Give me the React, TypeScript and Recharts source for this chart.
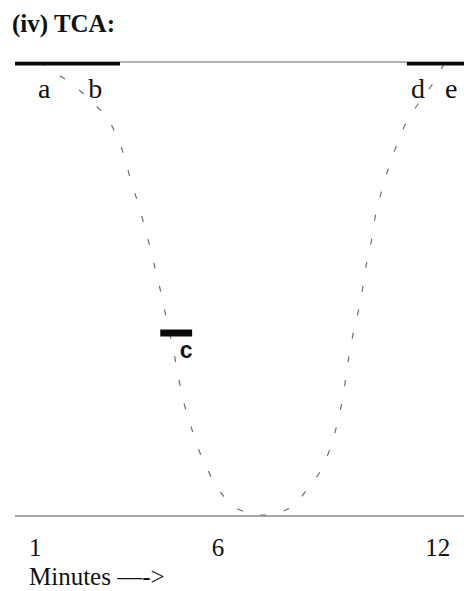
import React from "react";
import { ComposedChart, Line, Scatter, XAxis, YAxis, ReferenceLine } from "recharts";

// dashed curve (minutes, relative level 0..1)
const curveMinutes = [1.14, 1.46, 2.04, 2.5, 3.13, 3.38, 3.6, 3.87, 4.14, 4.31, 4.47, 4.61, 4.77, 4.91, 5.04, 5.23, 5.43, 5.73, 6.08, 6.55, 7.23, 8.02, 8.46, 8.84, 9.11, 9.28, 9.42, 9.52, 9.63, 9.8, 9.93, 10.04, 10.18, 10.29, 10.48, 10.67, 10.92, 11.16, 11.46, 11.71, 11.98, 12.2];
const curveLevel = [1.0, 0.982, 0.949, 0.916, 0.854, 0.806, 0.744, 0.673, 0.592, 0.534, 0.481, 0.426, 0.369, 0.309, 0.258, 0.205, 0.155, 0.099, 0.051, 0.015, 0.002, 0.02, 0.062, 0.106, 0.161, 0.212, 0.267, 0.322, 0.377, 0.439, 0.492, 0.549, 0.602, 0.658, 0.719, 0.77, 0.825, 0.87, 0.907, 0.934, 0.967, 1.0];

// thick segments
const segStart = [0.45, 4.42, 11.16];
const segEnd = [3.32, 5.29, 12.72];
const segLevel = [1.0, 0.403, 1.0];

// point labels
const labelNames = ["a", "b", "d", "e"];
const labelMinutes = [1.25, 2.64, 11.46, 12.37];
const labelLevel = [0.921, 0.921, 0.921, 0.921];
const cLabel = { name: "c", m: 5.13, v: 0.348 };

const xTicks = [1, 6, 12];
const xDomain = [0.45, 12.72];

const curveData = curveMinutes.map((m, i) => ({ m, v: curveLevel[i] }));
const segData = segStart.map((s, i) => [
  { m: s, v: segLevel[i] },
  { m: segEnd[i], v: segLevel[i] },
]);
const labelData = labelNames.map((name, i) => ({ name, m: labelMinutes[i], v: labelLevel[i] }));

const serif = "'Liberation Serif', 'Times New Roman', serif";

const TickText = (props: any) => {
  const { x, y, payload } = props;
  return (
    <text x={x} y={y + 32} textAnchor="middle" fontFamily={serif} fontSize={25} fill="#111">
      {payload.value}
    </text>
  );
};

const AxisLabel = (props: any) => {
  const vb = props.viewBox || { x: 15, y: 516 };
  return (
    <text x={vb.x + 14} y={585} fontFamily={serif} fontSize={25} fill="#111">
      Minutes —-&gt;
    </text>
  );
};

const LetterShape = (props: any) => {
  const { cx, cy, payload } = props;
  return (
    <text x={cx} y={cy} textAnchor="middle" fontFamily={serif} fontSize={28} fill="#111">
      {payload.name}
    </text>
  );
};

const BoldShape = (props: any) => {
  const { cx, cy, payload } = props;
  return (
    <text x={cx} y={cy} textAnchor="middle" fontFamily="'Liberation Sans', Arial, sans-serif" fontWeight="bold" fontSize={23} fill="#111">
      {payload.name}
    </text>
  );
};

export default function App() {
  return (
    <div style={{ position: "absolute", left: 0, top: 0, width: 464, height: 591, background: "#fff" }}>
      <div
        style={{
          position: "absolute",
          left: 12,
          top: 9,
          fontFamily: serif,
          fontWeight: "bold",
          fontSize: 25,
          lineHeight: "30px",
          color: "#111",
          whiteSpace: "nowrap",
        }}
      >
        (iv) TCA:
      </div>
      <ComposedChart width={464} height={591} margin={{ top: 62, right: 0, left: 15, bottom: 0 }}>
        <XAxis
          dataKey="m"
          type="number"
          domain={xDomain}
          allowDataOverflow
          ticks={xTicks}
          tickLine={false}
          axisLine={{ stroke: "#8a8a8a", strokeWidth: 1.5 }}
          tick={<TickText />}
          height={75}
          label={<AxisLabel />}
        />
        <YAxis
          dataKey="v"
          type="number"
          domain={[0, 1]}
          allowDataOverflow
          width={0}
          tick={false}
          tickLine={false}
          axisLine={{ stroke: "#8a8a8a", strokeWidth: 1.5 }}
        />
        <ReferenceLine y={1} stroke="#999" strokeWidth={1.5} />
        <Line
          data={curveData}
          dataKey="v"
          type="monotone"
          stroke="#6e6e6e"
          strokeWidth={1.2}
          strokeDasharray="6 18"
          dot={false}
          isAnimationActive={false}
        />
        {segData.map((d, i) => (
          <Line
            key={i}
            data={d}
            dataKey="v"
            type="linear"
            stroke="#0a0a0a"
            strokeWidth={7}
            strokeLinecap="butt"
            dot={false}
            isAnimationActive={false}
          />
        ))}
        <Scatter data={labelData} dataKey="v" shape={<LetterShape />} isAnimationActive={false} />
        <Scatter data={[cLabel]} dataKey="v" shape={<BoldShape />} isAnimationActive={false} />
      </ComposedChart>
    </div>
  );
}
